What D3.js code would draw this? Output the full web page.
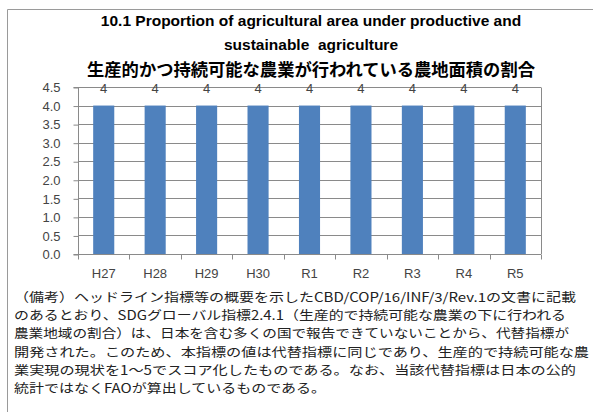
<!DOCTYPE html>
<html><head><meta charset="utf-8">
<script src="https://cdn.jsdelivr.net/npm/d3@7"></script>
<style>body{margin:0;background:#fff}svg{display:block}</style>
</head><body>
<script>
const categories = ["H27","H28","H29","H30","R1","R2","R3","R4","R5"];
const values = [4,4,4,4,4,4,4,4,4];
const yTicks = [0,0.5,1,1.5,2,2.5,3,3.5,4,4.5];
const titleLines = ["10.1 Proportion of agricultural area under productive and","sustainable  agriculture"];
const titleJa = "生産的かつ持続可能な農業が行われている農地面積の割合";
const noteLines = [
 "（備考）ヘッドライン指標等の概要を示したCBD/COP/16/INF/3/Rev.1の文書に記載",
 "のあるとおり、SDGグローバル指標2.4.1（生産的で持続可能な農業の下に行われる",
 "農業地域の割合）は、日本を含む多くの国で報告できていないことから、代替指標が",
 "開発された。このため、本指標の値は代替指標に同じであり、生産的で持続可能な農",
 "業実現の現状を1～5でスコア化したものである。なお、当該代替指標は日本の公的",
 "統計ではなくFAOが算出しているものである。"
];
const noteWidths = [562,552,555,575,562,312];

(function(){
const W=593,H=412;
const svg=d3.select("body").append("svg").attr("width",W).attr("height",H);
const grey="#8a8a8a";
svg.append("path").attr("d","M7.5,412V9.5H593").attr("fill","none").attr("stroke","#9a9a9a");

const pL=78,pR=541,pT=87,pB=254;
const x=d3.scaleBand().domain(categories).range([pL,pR]).paddingInner(0.59).paddingOuter(0.295);
const xb=d3.scaleBand().domain(categories).range([pL,pR]);
const y=d3.scaleLinear().domain([0,4.5]).range([pB,pT]);

svg.append("g").selectAll("line").data(yTicks.filter(d=>d>0)).join("line")
 .attr("x1",pL).attr("x2",pR).attr("y1",d=>Math.round(y(d))+0.5).attr("y2",d=>Math.round(y(d))+0.5)
 .attr("stroke",grey).attr("stroke-width",1);
svg.append("line").attr("x1",pR+0.5).attr("x2",pR+0.5).attr("y1",Math.round(pT)+0.5).attr("y2",pB).attr("stroke",grey);

svg.append("g").selectAll("rect").data(values).join("rect")
 .attr("x",(d,i)=>x(categories[i])).attr("width",x.bandwidth())
 .attr("y",d=>y(d)).attr("height",d=>y(0)-y(d)).attr("fill","#4f81bd");

const yAxis=d3.axisLeft(y).tickValues(yTicks).tickFormat(d3.format(".1f")).tickSize(5).tickPadding(13);
const gy=svg.append("g").attr("transform",`translate(${pL+0.5},0.5)`).call(yAxis);
gy.select(".domain").attr("stroke",grey).attr("d",`M-5,${y(0)}H0V${y(4.5)}H-5`);
gy.selectAll(".tick line").attr("stroke",grey);
gy.selectAll("text").attr("font-family","'Liberation Sans',Arial,sans-serif").attr("font-size",13).attr("fill","#444");

const xAxis=d3.axisBottom(xb).tickSize(0).tickPadding(14);
const gx=svg.append("g").attr("transform",`translate(0,${Math.round(pB)+0.5})`).call(xAxis);
gx.select(".domain").attr("stroke",grey).attr("d",`M${pL},0H${pR}`);
gx.selectAll("text").attr("font-family","'Liberation Sans',Arial,sans-serif").attr("font-size",13).attr("fill","#444");
gx.append("g").selectAll("line").data(d3.range(categories.length+1)).join("line")
 .attr("x1",i=>Math.round(pL+i*xb.step())+0.5).attr("x2",i=>Math.round(pL+i*xb.step())+0.5)
 .attr("y1",0).attr("y2",5).attr("stroke",grey);

svg.append("g").selectAll("text").data(values).join("text")
 .attr("x",(d,i)=>x(categories[i])+x.bandwidth()/2).attr("y",y(4.5)+6)
 .attr("text-anchor","middle").attr("font-family","'Liberation Sans',Arial,sans-serif").attr("font-size",13).attr("fill","#444")
 .text(d=>d);

const cx=311;
svg.append("g").selectAll("text").data(titleLines).join("text")
 .attr("x",cx).attr("y",(d,i)=>26+i*24).attr("text-anchor","middle")
 .style("white-space","pre")
 .attr("font-family","'Liberation Sans',Arial,sans-serif").attr("font-weight","bold").attr("font-size",15.5).attr("fill","#000")
 .text(d=>d);
svg.append("text").attr("x",cx).attr("y",76).attr("text-anchor","middle")
 .attr("font-family","'Noto Sans CJK JP',sans-serif").attr("font-weight","bold").attr("font-size",17.3).attr("fill","#000")
 .text(titleJa);

svg.append("g").selectAll("text").data(noteLines).join("text")
 .attr("x",14).attr("y",(d,i)=>302+i*18.2)
 .attr("font-family","'Noto Sans CJK JP',sans-serif").attr("font-size",12.5).attr("fill","#222")
 .attr("textLength",(d,i)=>noteWidths[i]).attr("lengthAdjust","spacingAndGlyphs")
 .text(d=>d);
})();
</script>
</body></html>
